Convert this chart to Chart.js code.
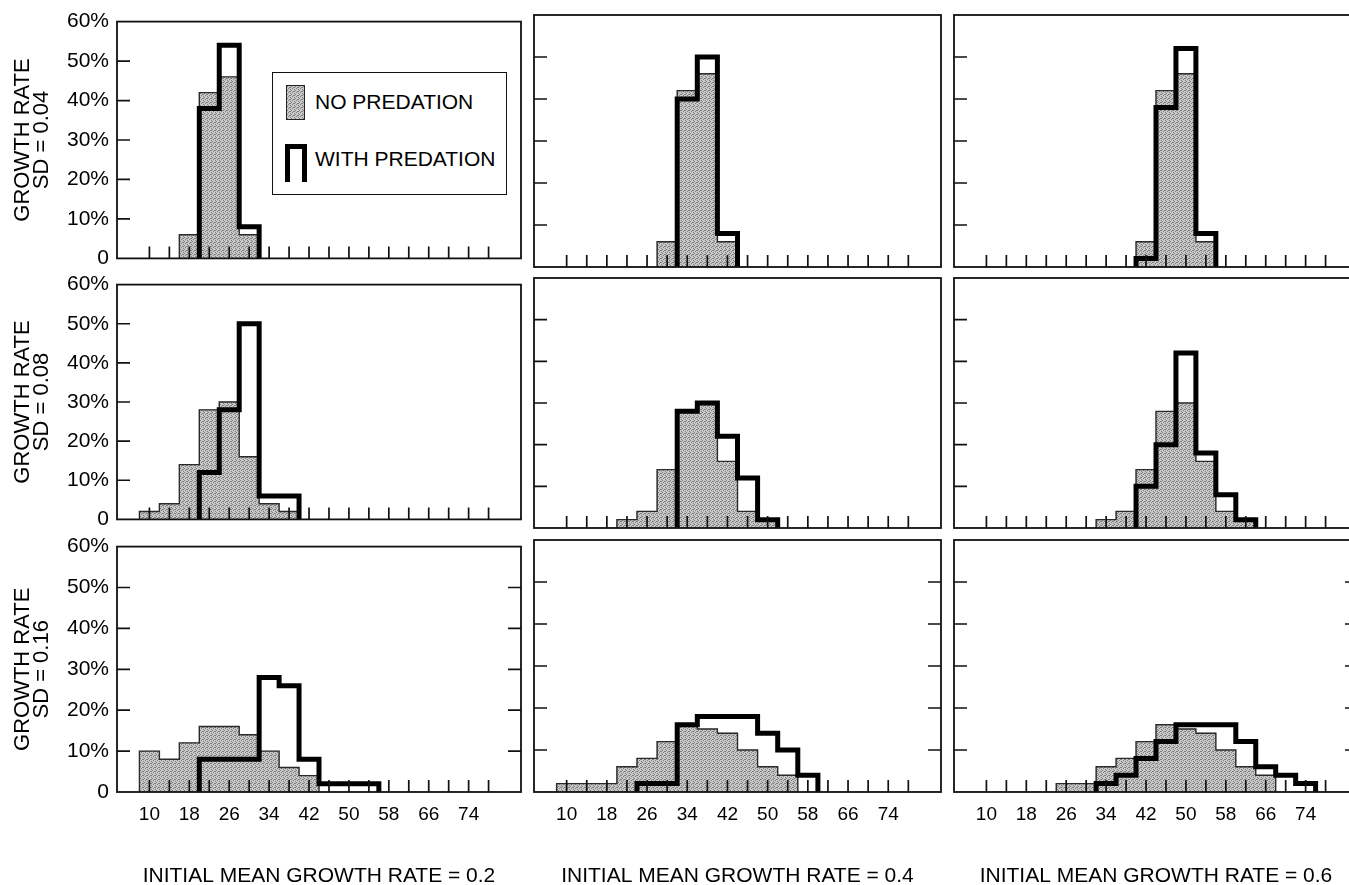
<!DOCTYPE html>
<html>
<head>
<meta charset="utf-8">
<script src="https://cdn.jsdelivr.net/npm/chart.js@4.4.1/dist/chart.umd.min.js"></script>
<style>
html,body{margin:0;padding:0;background:#fff;}
body{width:1349px;height:885px;overflow:hidden;position:relative;font-family:'Liberation Sans',Arial,Helvetica,sans-serif;color:#000;}
canvas{position:absolute;}
#legend{position:absolute;left:272px;top:72px;width:235px;height:123px;border:1.6px solid #111;background:#fff;box-sizing:border-box;z-index:5;}
#legend .sw1{position:absolute;left:13px;top:12px;width:19px;height:35px;border:1.5px solid #222;box-sizing:border-box;}
#legend .sw2{position:absolute;left:12px;top:71px;width:22px;height:38px;border:5px solid #000;border-bottom:none;box-sizing:border-box;}
#legend .t{position:absolute;left:42px;font-size:21px;line-height:24px;white-space:nowrap;}
</style>
</head>
<body>
<div id="legend">
  <div class="sw1" id="sw1"></div><div class="t" style="top:17px">NO PREDATION</div>
  <div class="sw2"></div><div class="t" style="top:74px">WITH PREDATION</div>
</div>
<script>
// ---------------- data ----------------
const binCenters = [6,10,14,18,22,26,30,34,38,42,46,50,54,58,62,66,70,74,78,82];
const binWidth = 4;
const xTickValues = [10,14,18,22,26,30,34,38,42,46,50,54,58,62,66,70,74,78];
const xTickLabels = ['10','18','26','34','42','50','58','66','74'];
const yTickValues = [0,10,20,30,40,50,60];
const yTickLabels = ['0','10%','20%','30%','40%','50%','60%'];
const rowLabels = [['GROWTH RATE','SD = 0.04'],['GROWTH RATE','SD = 0.08'],['GROWTH RATE','SD = 0.16']];
const colLabels = ['INITIAL MEAN GROWTH RATE = 0.2','INITIAL MEAN GROWTH RATE = 0.4','INITIAL MEAN GROWTH RATE = 0.6'];
const seriesNames = ['NO PREDATION','WITH PREDATION'];

// SD = 0.04
const noPred_sd004_m02   = [0,0,0,6,42,46,6,0,0,0,0,0,0,0,0,0,0,0,0,0];
const withPred_sd004_m02 = [0,0,0,0,38,54,8,0,0,0,0,0,0,0,0,0,0,0,0,0];
const noPred_sd004_m04   = [0,0,0,0,0,0,6,42,46,6,0,0,0,0,0,0,0,0,0,0];
const withPred_sd004_m04 = [0,0,0,0,0,0,0,40,50,8,0,0,0,0,0,0,0,0,0,0];
const noPred_sd004_m06   = [0,0,0,0,0,0,0,0,0,6,42,46,6,0,0,0,0,0,0,0];
const withPred_sd004_m06 = [0,0,0,0,0,0,0,0,0,2,38,52,8,0,0,0,0,0,0,0];
// SD = 0.08
const noPred_sd008_m02   = [0,2,4,14,28,30,16,4,2,0,0,0,0,0,0,0,0,0,0,0];
const withPred_sd008_m02 = [0,0,0,0,12,28,50,6,6,0,0,0,0,0,0,0,0,0,0,0];
const noPred_sd008_m04   = [0,0,0,0,2,4,14,28,30,16,4,2,0,0,0,0,0,0,0,0];
const withPred_sd008_m04 = [0,0,0,0,0,0,0,28,30,22,12,2,0,0,0,0,0,0,0,0];
const noPred_sd008_m06   = [0,0,0,0,0,0,0,2,4,14,28,30,16,4,2,0,0,0,0,0];
const withPred_sd008_m06 = [0,0,0,0,0,0,0,0,0,10,20,42,18,8,2,0,0,0,0,0];
// SD = 0.16
const noPred_sd016_m02   = [0,10,8,12,16,16,14,10,6,4,0,0,0,0,0,0,0,0,0,0];
const withPred_sd016_m02 = [0,0,0,0,8,8,8,28,26,8,2,2,2,0,0,0,0,0,0,0];
const noPred_sd016_m04   = [0,2,2,2,6,8,12,16,15,14,10,6,4,0,0,0,0,0,0,0];
const withPred_sd016_m04 = [0,0,0,0,0,2,2,16,18,18,18,14,10,4,0,0,0,0,0,0];
const noPred_sd016_m06   = [0,0,0,0,0,2,2,6,8,12,16,15,14,10,6,4,0,0,0,0];
const withPred_sd016_m06 = [0,0,0,0,0,0,0,2,4,8,12,16,16,16,12,6,4,2,0,0];

const panelData = [
  [[noPred_sd004_m02,withPred_sd004_m02],[noPred_sd004_m04,withPred_sd004_m04],[noPred_sd004_m06,withPred_sd004_m06]],
  [[noPred_sd008_m02,withPred_sd008_m02],[noPred_sd008_m04,withPred_sd008_m04],[noPred_sd008_m06,withPred_sd008_m06]],
  [[noPred_sd016_m02,withPred_sd016_m02],[noPred_sd016_m04,withPred_sd016_m04],[noPred_sd016_m06,withPred_sd016_m06]]
];

// ---------------- layout ----------------
const colBoxes = [{L:117,W:404},{L:534,W:407},{L:954,W:404}];
const rowBoxes = [{T:15,H:252},{T:278,H:250},{T:540,H:252}];
const FONT = "'Liberation Sans', Arial, Helvetica, sans-serif";
Chart.defaults.font.family = FONT;
Chart.defaults.color = '#000';

// gray stipple pattern
const patCanvas = document.createElement('canvas');
patCanvas.width = 4; patCanvas.height = 4;
(function(){
  const g = patCanvas.getContext('2d');
  g.fillStyle = '#c8c8c8'; g.fillRect(0,0,4,4);
  g.fillStyle = '#7e7e7e';
  [[0,0],[2,1],[1,2],[3,3],[3,1]].forEach(p => g.fillRect(p[0],p[1],1,1));
})();
const tmpCtx = document.createElement('canvas').getContext('2d');
const grayPattern = tmpCtx.createPattern(patCanvas,'repeat');
document.getElementById('sw1').style.background = 'url(' + patCanvas.toDataURL() + ')';

function stepOutline(vals){
  const first = vals.findIndex(v => v > 0);
  let last = vals.length - 1;
  while (last >= 0 && !(vals[last] > 0)) last--;
  const pts = [];
  for (let i = first; i <= last; i++){
    const l = binCenters[i] - binWidth/2, r = binCenters[i] + binWidth/2;
    if (i === first) pts.push({x:l, y:0});
    pts.push({x:l, y:vals[i]});
    pts.push({x:r, y:vals[i]});
    if (i === last) pts.push({x:r, y:0});
  }
  return pts;
}

const framePlugin = {
  id: 'frame',
  afterDatasetsDraw(chart, args, opts){
    const {ctx, chartArea:a} = chart;
    const x = chart.scales.x, y = chart.scales.y;
    ctx.save();
    ctx.strokeStyle = '#111';
    ctx.lineWidth = 1.7;
    ctx.beginPath();
    xTickValues.forEach(v => {
      const px = x.getPixelForValue(v);
      ctx.moveTo(px, a.bottom); ctx.lineTo(px, a.bottom - 12);
    });
    yTickValues.slice(1,-1).forEach(v => {
      const py = y.getPixelForValue(v);
      ctx.moveTo(a.left, py); ctx.lineTo(a.left + 13, py);
      if (opts.rightTicks){ ctx.moveTo(a.right, py); ctx.lineTo(a.right - 13, py); }
    });
    ctx.stroke();
    ctx.lineWidth = 1.8;
    ctx.strokeRect(a.left, a.top, a.right - a.left, a.bottom - a.top);
    ctx.restore();
  }
};

const hideZeroRun = ctx => (ctx.p0.parsed.y === 0 && ctx.p1.parsed.y === 0) ? 'rgba(0,0,0,0)' : undefined;

for (let r = 0; r < 3; r++){
  for (let c = 0; c < 3; c++){
    const cb = colBoxes[c], rb = rowBoxes[r];
    const yW = c === 0 ? 117 : 4;
    const padR = 4, padT = 14;
    const xH = r === 2 ? 103 : 12;
    const cv = document.createElement('canvas');
    cv.width = yW + cb.W + padR;
    cv.height = padT + rb.H + xH;
    cv.style.left = (cb.L - yW) + 'px';
    cv.style.top = (rb.T - padT) + 'px';
    document.body.appendChild(cv);
    const [noPred, withPred] = panelData[r][c];
    new Chart(cv, {
      type: 'bar',
      data: {
        datasets: [
          {
            type: 'bar', label: seriesNames[0], order: 3,
            data: binCenters.map((b,i) => ({x:b, y:noPred[i]})),
            backgroundColor: grayPattern, borderWidth: 0,
            barPercentage: 1, categoryPercentage: 1
          },
          {
            type: 'line', label: seriesNames[0] + ' outline', order: 2,
            data: stepOutline(noPred),
            borderColor: '#2a2a2a', borderWidth: 1.4, pointRadius: 0, fill: false, tension: 0,
            borderJoinStyle: 'miter', segment: {borderColor: hideZeroRun}
          },
          {
            type: 'line', label: seriesNames[1], order: 1,
            data: stepOutline(withPred),
            borderColor: '#000', borderWidth: 5, pointRadius: 0, fill: false, tension: 0,
            borderJoinStyle: 'miter', borderCapStyle: 'butt', segment: {borderColor: hideZeroRun}
          }
        ]
      },
      options: {
        responsive: false, animation: false, events: [],
        layout: {padding: {top: padT, right: padR, bottom: 0, left: 0}},
        plugins: {legend: {display:false}, tooltip: {enabled:false}, frame: {rightTicks: r === 2}},
        scales: {
          x: {
            type: 'linear', min: 3.5, max: 84.5, offset: false,
            afterBuildTicks: s => { s.ticks = xTickValues.map(v => ({value: v})); },
            afterFit: s => { s.height = xH; },
            grid: {display: false, drawTicks: false}, border: {display: false},
            ticks: {display: r === 2, autoSkip: false, maxRotation: 0, minRotation: 0, padding: 11,
                    font: {size: 19}, color: '#000',
                    callback: v => xTickLabels.includes(String(v)) ? String(v) : ''},
            title: {display: r === 2, text: colLabels[c], font: {size: 21}, color: '#000',
                    padding: {top: 0, bottom: 6}}
          },
          y: {
            type: 'linear', min: 0, max: 60,
            afterBuildTicks: s => { s.ticks = yTickValues.map(v => ({value: v})); },
            afterFit: s => { s.width = yW; },
            grid: {display: false, drawTicks: false}, border: {display: false},
            ticks: {display: c === 0, padding: 8, font: {size: 21}, color: '#000',
                    callback: v => yTickLabels[yTickValues.indexOf(v)]},
            title: {display: c === 0, text: rowLabels[r], font: {size: 22, lineHeight: 0.85}, color: '#000',
                    padding: {top: 14, bottom: 0}}
          }
        }
      },
      plugins: [framePlugin]
    });
  }
}
</script>
</body>
</html>
